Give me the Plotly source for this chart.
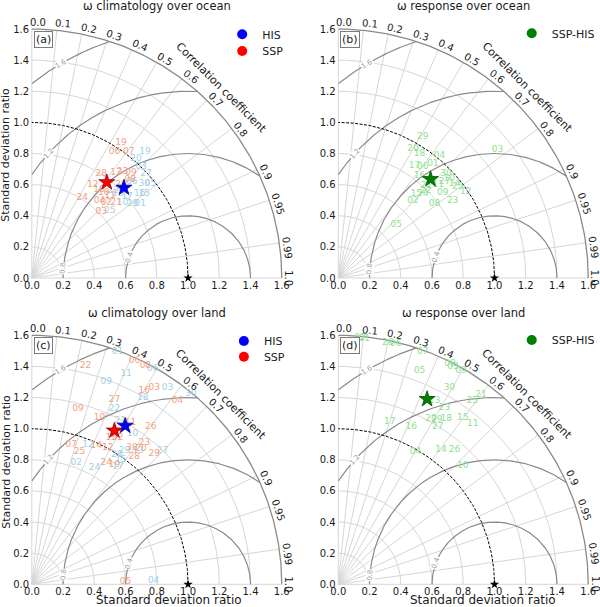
import numpy as np
import plotly.graph_objects as go

# ---------------- data ----------------
panel_titles = ["ω climatology over ocean", "ω response over ocean",
                "ω climatology over land", "ω response over land"]
panel_letters = ["(a)", "(b)", "(c)", "(d)"]

std_ticks = [0.0, 0.2, 0.4, 0.6, 0.8, 1.0, 1.2, 1.4, 1.6]
std_ticklabels = ["0.0", "0.2", "0.4", "0.6", "0.8", "1.0", "1.2", "1.4", "1.6"]
cor_ticks = [0.0, 0.1, 0.2, 0.3, 0.4, 0.5, 0.6, 0.7, 0.8, 0.9, 0.95, 0.99, 1.0]
cor_ticklabels = ["0.0", "0.1", "0.2", "0.3", "0.4", "0.5", "0.6", "0.7",
                  "0.8", "0.9", "0.95", "0.99", "1.0"]
std_arcs = [0.2, 0.4, 0.6, 0.8, 1.2, 1.4]
rms_levels = [0.4, 0.8, 1.2, 1.6]
rms_labels = ["0.4", "0.8", "1.2", "1.6"]

# reference point
ref_std = [1.0]
ref_cor = [1.0]

# (a) climatology over ocean
a_his_ids = ["19", "20", "03", "27", "30", "05", "16", "15", "29", "01", "25", "13", "22", "10", "06", "17"]
a_his_std = [1.086, 1.016, 0.999, 0.991, 0.941, 0.973, 0.878, 0.902, 0.803, 0.844, 0.660, 0.771, 0.764, 0.753, 0.891, 0.801]
a_his_cor = [0.667, 0.656, 0.700, 0.737, 0.765, 0.781, 0.786, 0.798, 0.803, 0.823, 0.757, 0.713, 0.680, 0.770, 0.718, 0.761]
a_ssp_ids = ["19", "06", "07", "28", "13", "09", "18", "24", "04", "02", "03", "21", "10", "23", "08", "12", "26", "11"]
a_ssp_std = [1.038, 0.967, 1.020, 0.801, 0.864, 0.927, 0.714, 0.609, 0.661, 0.680, 0.615, 0.726, 0.717, 0.894, 0.891, 0.716, 0.828, 0.729]
a_ssp_cor = [0.550, 0.547, 0.608, 0.554, 0.624, 0.685, 0.602, 0.530, 0.655, 0.700, 0.722, 0.744, 0.641, 0.649, 0.707, 0.545, 0.689, 0.686]
a_mean_std = [0.827, 0.780]   # HIS, SSP
a_mean_cor = [0.713, 0.615]

# (b) response over ocean (SSP-HIS)
b_ids = ["29", "20", "18", "04", "17", "06", "01", "03", "30", "27", "14", "12", "25",
         "23", "09", "02", "24", "21", "08", "05", "15", "10", "22", "11", "16"]
b_std = [1.055, 0.959, 0.953, 1.020, 0.873, 0.895, 0.952, 1.312, 0.962, 0.918, 0.958, 0.986, 0.962,
         0.886, 0.864, 0.687, 0.767, 0.820, 0.780, 0.504, 0.738, 0.956, 0.792, 0.877, 0.840]
b_cor = [0.513, 0.498, 0.546, 0.635, 0.559, 0.604, 0.636, 0.777, 0.717, 0.741, 0.776, 0.828, 0.794,
         0.826, 0.774, 0.696, 0.705, 0.687, 0.790, 0.736, 0.676, 0.743, 0.707, 0.730, 0.619]
b_mean_std = [0.867]
b_mean_cor = [0.681]

# (c) climatology over land
c_his_ids = ["01", "06", "11", "09", "03", "30", "18", "22", "21", "10", "27", "29", "28", "02",
             "24", "17", "04", "12", "13", "15"]
c_his_std = [1.590, 1.585, 1.483, 1.385, 1.531, 1.590, 1.394, 1.244, 1.193, 1.161, 1.199, 1.045, 0.994, 0.830,
             0.852, 0.932, 0.780, 0.966, 1.096, 0.982]
c_his_cor = [0.345, 0.488, 0.407, 0.344, 0.567, 0.640, 0.509, 0.425, 0.474, 0.555, 0.697, 0.567, 0.549, 0.343,
             0.470, 0.590, 0.9995, 0.372, 0.620, 0.580]
c_ssp_ids = ["22", "06", "08", "16", "03", "04", "27", "09", "10", "11", "26", "15", "02", "23", "30",
             "20", "28", "29", "07", "25", "14", "12", "24", "19", "05"]
c_ssp_std = [1.445, 1.582, 1.580, 1.437, 1.484, 1.503, 1.297, 1.168, 1.156, 1.217, 1.269, 1.072, 1.093, 1.162, 1.084,
             1.119, 1.051, 1.150, 0.932, 0.902, 0.982, 1.005, 0.917, 0.933, 0.600]
c_ssp_cor = [0.238, 0.415, 0.460, 0.501, 0.528, 0.620, 0.408, 0.253, 0.375, 0.519, 0.600, 0.474, 0.503, 0.620, 0.591,
             0.625, 0.624, 0.681, 0.271, 0.339, 0.420, 0.484, 0.519, 0.567, 0.9995]
c_mean_std = [1.181, 1.120]   # HIS, SSP
c_mean_cor = [0.506, 0.472]

# (d) response over land (SSP-HIS)
d_ids = ["02", "28", "06", "07", "05", "08", "03", "09", "30", "21", "25", "13", "23", "20", "29", "18",
         "15", "11", "17", "16", "27", "04", "14", "26", "10", "01"]
d_std = [1.591, 1.585, 1.590, 1.591, 1.467, 1.590, 1.580, 1.581, 1.448, 1.525, 1.459, 1.330, 1.325, 1.217, 1.233, 1.267,
         1.336, 1.342, 1.097, 1.115, 1.197, 0.987, 1.087, 1.140, 1.100, 1.588]
d_cor = [0.087, 0.200, 0.230, 0.340, 0.354, 0.450, 0.465, 0.497, 0.491, 0.599, 0.589, 0.463, 0.513, 0.488, 0.511, 0.545,
         0.596, 0.641, 0.300, 0.419, 0.532, 0.500, 0.605, 0.652, 0.724, 0.105]
d_mean_std = [1.319]
d_mean_cor = [0.431]

# ---------------- styling ----------------
HIS_TXT = "#a3cfe6"
SSP_TXT = "#f2a07f"
DIF_TXT = "#8fe08f"
GRID = "#d6d6d6"
ARC = "#8a8a8a"
TXT = "#1a1a1a"
FONT = "DejaVu Sans"

W, H = 600, 607
SX, SY = 157.0, 155.6
origins = {1: (32.0, 278.0), 2: (340.0, 278.0), 3: (32.0, 584.3), 4: (340.0, 584.3)}
LO, HI = -0.03, 1.65


def to_xy(std, cor):
    s = np.asarray(std, float)
    c = np.asarray(cor, float)
    return s * c, s * np.sqrt(np.clip(1 - c * c, 0, None))


def refs(k):
    return ("x" if k == 1 else f"x{k}", "y" if k == 1 else f"y{k}")


fig = go.Figure()


def add_frame(k):
    xr, yr = refs(k)
    th = np.linspace(0, np.pi / 2, 200)
    xs, ys = [], []
    for r in std_arcs:
        xs += list(r * np.cos(th)) + [None]
        ys += list(r * np.sin(th)) + [None]
    for c in cor_ticks:
        x1, y1 = to_xy([1.6], [c])
        xs += [0, float(x1[0]), None]
        ys += [0, float(y1[0]), None]
    fig.add_trace(go.Scatter(x=xs, y=ys, mode="lines", line=dict(color=GRID, width=1),
                             xaxis=xr, yaxis=yr, hoverinfo="skip", showlegend=False))
    # RMS-difference arcs centred at the reference point
    xs, ys = [], []
    phi = np.linspace(0, np.pi, 3000)
    for r in rms_levels:
        x = 1 + r * np.cos(phi)
        y = r * np.sin(phi)
        m = (x >= 0) & (x * x + y * y <= 1.6 ** 2)
        xs += list(x[m]) + [None]
        ys += list(y[m]) + [None]
    fig.add_trace(go.Scatter(x=xs, y=ys, mode="lines", line=dict(color=ARC, width=1.2),
                             xaxis=xr, yaxis=yr, hoverinfo="skip", showlegend=False))
    # outer arc
    fig.add_trace(go.Scatter(x=1.6 * np.cos(th), y=1.6 * np.sin(th), mode="lines",
                             line=dict(color=ARC, width=1.3),
                             xaxis=xr, yaxis=yr, hoverinfo="skip", showlegend=False))
    # reference std arc (dashed)
    fig.add_trace(go.Scatter(x=np.cos(th), y=np.sin(th), mode="lines",
                             line=dict(color="black", width=1, dash="3px,1.5px"),
                             xaxis=xr, yaxis=yr, hoverinfo="skip", showlegend=False))
    # RMS labels
    for r, lab, ang in zip(rms_levels, rms_labels, [160.0, 175.6, 138.2, 120.6]):
        a = np.radians(ang)
        fig.add_annotation(x=1 + r * np.cos(a), y=r * np.sin(a), xref=xr, yref=yr, text=lab,
                           showarrow=False, textangle=90 - ang, bgcolor="white", borderpad=0,
                           font=dict(size=7, color="#999999", family=FONT))
    # correlation tick labels
    for c, lab in zip(cor_ticks, cor_ticklabels):
        t = np.arccos(c)
        td = np.degrees(t)
        tp = max(t - np.radians(1.3), 0.0)
        R = 1.645
        fig.add_annotation(x=R * np.cos(tp), y=R * np.sin(tp), xref=xr, yref=yr, text=lab,
                           showarrow=False, textangle=90 - td,
                           font=dict(size=10, color=TXT, family=FONT))
    ct = np.radians(45.3)
    fig.add_annotation(x=1.72 * np.cos(ct), y=1.72 * np.sin(ct), xref=xr, yref=yr,
                       text="Correlation coefficient", showarrow=False, textangle=45,
                       font=dict(size=11, color=TXT, family=FONT))
    # reference star
    rx, ry = to_xy(ref_std, ref_cor)
    fig.add_trace(go.Scatter(x=rx, y=ry, mode="markers",
                             marker=dict(symbol="star", size=7, color="black"),
                             xaxis=xr, yaxis=yr, cliponaxis=False, hoverinfo="skip", showlegend=False))


def add_labels(k, ids, std, cor, color):
    xr, yr = refs(k)
    x, y = to_xy(std, cor)
    fig.add_trace(go.Scatter(x=x, y=y, mode="text", text=ids,
                             textfont=dict(size=9, color=color, family=FONT),
                             xaxis=xr, yaxis=yr, cliponaxis=False, hoverinfo="skip", showlegend=False))


def add_star(k, std, cor, color, edge):
    xr, yr = refs(k)
    x, y = to_xy(std, cor)
    fig.add_trace(go.Scatter(x=x, y=y, mode="markers",
                             marker=dict(symbol="star", size=12, color=color, line=dict(color=edge, width=0.8)),
                             xaxis=xr, yaxis=yr, cliponaxis=False, hoverinfo="skip", showlegend=False))


def add_legend_entry(k, name, color, legend):
    xr, yr = refs(k)
    fig.add_trace(go.Scatter(x=[None], y=[None], mode="markers", name=name,
                             marker=dict(symbol="circle", size=10, color=color),
                             xaxis=xr, yaxis=yr, legend=legend, showlegend=True))


for k in range(1, 5):
    add_frame(k)

add_labels(1, a_his_ids, a_his_std, a_his_cor, HIS_TXT)
add_labels(1, a_ssp_ids, a_ssp_std, a_ssp_cor, SSP_TXT)
add_star(1, a_mean_std[:1], a_mean_cor[:1], "blue", "#00008b")
add_star(1, a_mean_std[1:], a_mean_cor[1:], "red", "#8b0000")

add_labels(2, b_ids, b_std, b_cor, DIF_TXT)
add_star(2, b_mean_std, b_mean_cor, "green", "#004d00")

add_labels(3, c_his_ids, c_his_std, c_his_cor, HIS_TXT)
add_labels(3, c_ssp_ids, c_ssp_std, c_ssp_cor, SSP_TXT)
add_star(3, c_mean_std[:1], c_mean_cor[:1], "blue", "#00008b")
add_star(3, c_mean_std[1:], c_mean_cor[1:], "red", "#8b0000")

add_labels(4, d_ids, d_std, d_cor, DIF_TXT)
add_star(4, d_mean_std, d_mean_cor, "green", "#004d00")

add_legend_entry(1, "HIS", "blue", "legend")
add_legend_entry(1, "SSP", "red", "legend2")
add_legend_entry(2, "SSP-HIS", "green", "legend3")
add_legend_entry(3, "HIS", "blue", "legend4")
add_legend_entry(3, "SSP", "red", "legend5")
add_legend_entry(4, "SSP-HIS", "green", "legend6")

# ---------------- axes ----------------
layout_axes = {}
for k in range(1, 5):
    ox, oy = origins[k]
    xd = [(ox + LO * SX) / W, (ox + HI * SX) / W]
    yd = [(H - (oy - LO * SY)) / H, (H - (oy - HI * SY)) / H]
    xn = "xaxis" if k == 1 else f"xaxis{k}"
    yn = "yaxis" if k == 1 else f"yaxis{k}"
    xr, yr = refs(k)
    common = dict(range=[LO, HI], tickvals=std_ticks, ticktext=std_ticklabels,
                  showgrid=False, zeroline=False, showline=False, ticks="", automargin=False,
                  tickfont=dict(size=10, color=TXT, family=FONT), fixedrange=True)
    layout_axes[xn] = dict(domain=xd, anchor=yr, ticklabelstandoff=-5, **common)
    layout_axes[yn] = dict(domain=yd, anchor=xr, ticklabelstandoff=-3, **common)

fig.update_layout(**layout_axes)

# titles, axis titles, panel letters
for k in range(1, 5):
    ox, oy = origins[k]
    cx = ox + 0.8 * SX
    ty = 6 if k <= 2 else 312.5
    fig.add_annotation(x=cx / W, y=(H - ty) / H, xref="paper", yref="paper",
                       text=panel_titles[k - 1], showarrow=False, xanchor="center", yanchor="middle",
                       font=dict(size=11.5, color=TXT, family=FONT))
    lx = ox + 11.7
    ly = oy - 238.5 if k <= 2 else oy - 238.3
    fig.add_annotation(x=lx / W, y=(H - ly) / H, xref="paper", yref="paper",
                       text=panel_letters[k - 1], showarrow=False, xanchor="center", yanchor="middle",
                       bordercolor="#7a7a7a", borderwidth=1, borderpad=1, bgcolor="white",
                       font=dict(size=11, color=TXT, family=FONT))

for yc in [155, 462]:
    fig.add_annotation(x=5.8 / W, y=(H - yc) / H, xref="paper", yref="paper",
                       text="Standard deviation ratio", showarrow=False, textangle=-90,
                       xanchor="center", yanchor="middle",
                       font=dict(size=11, color=TXT, family=FONT))
for xc in [170, 485]:
    fig.add_annotation(x=xc / W, y=(H - 600) / H, xref="paper", yref="paper",
                       text="Standard deviation ratio", showarrow=False,
                       xanchor="center", yanchor="middle",
                       font=dict(size=12, color=TXT, family=FONT))

leg_common = dict(xanchor="left", yanchor="top", bgcolor="rgba(0,0,0,0)", borderwidth=0,
                  font=dict(size=11, color=TXT, family=FONT), itemsizing="trace", tracegroupgap=0)
legend_dots = [(243.3, 33.3), (243.3, 50.0), (534.3, 32.3), (245.0, 340.0), (245.0, 355.7), (534.3, 339.0)]
leg_layout = {}
for i, (dx, dy) in enumerate(legend_dots):
    key = "legend" if i == 0 else f"legend{i + 1}"
    leg_layout[key] = dict(x=(dx - 20) / W, y=(H - (dy - 13.5)) / H, **leg_common)
fig.update_layout(**leg_layout)

fig.update_layout(width=W, height=H, margin=dict(l=0, r=0, t=0, b=0),
                  paper_bgcolor="white", plot_bgcolor="white", showlegend=True)

fig.write_html("out.html", config={"displayModeBar": False},
               post_script="document.body.style.margin='0';document.body.style.padding='0';"
                           "document.documentElement.style.overflow='hidden';")
